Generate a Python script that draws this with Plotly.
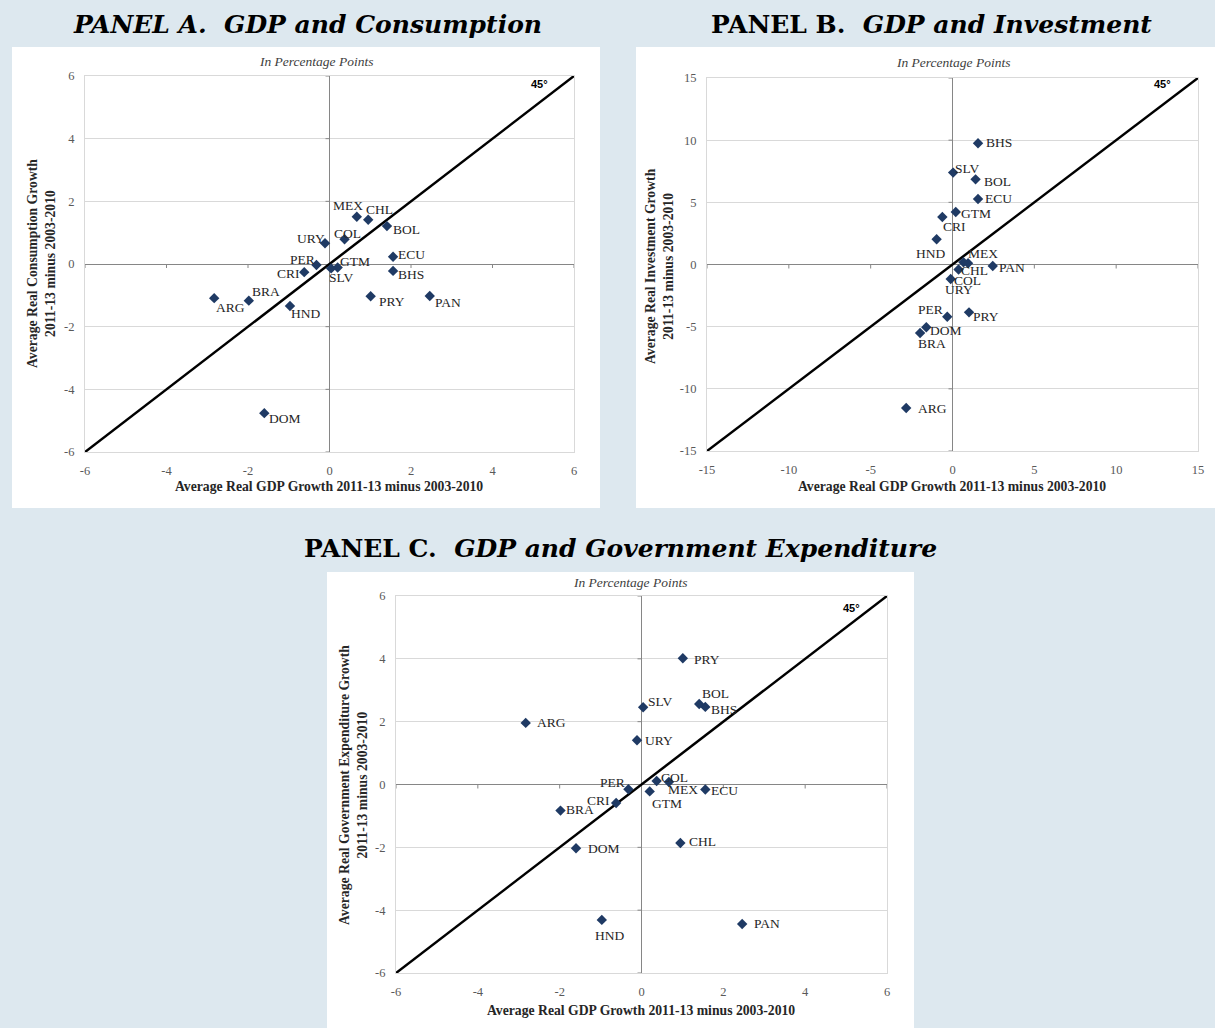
import plotly.graph_objects as go

# ---------------- data ----------------
countries = ["ARG", "BHS", "BOL", "BRA", "CHL", "COL", "CRI", "DOM", "ECU",
             "GTM", "HND", "MEX", "PAN", "PRY", "PER", "SLV", "URY"]
gdp_diff = [-2.83, 1.56, 1.41, -1.98, 0.95, 0.37, -0.62, -1.60, 1.56,
            0.20, -0.97, 0.67, 2.46, 1.01, -0.32, 0.04, -0.11]
consumption_diff = [-1.09, -0.22, 1.21, -1.17, 1.41, 0.79, -0.26, -4.76, 0.23,
                    -0.11, -1.34, 1.51, -1.02, -1.03, -0.03, -0.14, 0.66]
investment_diff = [-11.54, 9.75, 6.85, -5.51, 0.10, -0.40, 3.82, -5.05, 5.27,
                   4.22, 2.03, 0.18, -0.12, -3.85, -4.20, 7.39, -1.17]
government_diff = [1.96, 2.47, 2.56, -0.83, -1.86, 0.11, -0.59, -2.03, -0.16,
                   -0.22, -4.31, 0.08, -4.44, 4.02, -0.15, 2.46, 1.41]

ticks_ac = [-6, -4, -2, 0, 2, 4, 6]
ticks_b = [-15, -10, -5, 0, 5, 10, 15]

# label offsets (pixels, dx right, dy down) -- layout only
off_a = {"MEX": (-9, -11), "CHL": (11, -10), "BOL": (20, 3), "URY": (-14, -5),
         "COL": (3, -6), "ECU": (18, -2), "PER": (-14, -5), "GTM": (17, -6),
         "SLV": (10, 9), "CRI": (-16, 1), "BHS": (18, 4), "ARG": (16, 9),
         "BRA": (17, -9), "HND": (16, 8), "PRY": (21, 5), "PAN": (18, 7),
         "DOM": (21, 5)}
off_b = {"BHS": (21, -1), "SLV": (14, -4), "BOL": (22, 2), "ECU": (20, 0),
         "GTM": (20, 1), "CRI": (12, 10), "HND": (-6, 14), "MEX": (20, -9),
         "CHL": (6, 7), "COL": (9, 11), "URY": (8, 10), "PAN": (19, 2),
         "PER": (-17, -7), "PRY": (17, 4), "DOM": (20, 3), "BRA": (12, 10),
         "ARG": (26, 1)}
off_c = {"PRY": (24, 1), "BOL": (16, -11), "BHS": (19, 3), "SLV": (17, -6),
         "ARG": (26, 0), "URY": (22, 0), "COL": (18, -4), "MEX": (14, 8),
         "ECU": (19, 1), "PER": (-16, -7), "GTM": (17, 12), "CRI": (-18, -3),
         "BRA": (20, -1), "CHL": (22, -1), "DOM": (28, 0), "HND": (8, 16),
         "PAN": (25, 0)}

W, H = 1215, 1028
BG = "#dde8ef"
SERIF = "Liberation Serif, Times New Roman, serif"
TSERIF = "DejaVu Serif, serif"
MARK = "#1f3a64"


def px(x):
    return x / W


def py(y):
    return 1 - y / H


panels = [
    dict(name="A", xa="x", ya="y", xkey="xaxis", ykey="yaxis",
         dom_x=(85, 574), dom_y=(76, 452), ticks=ticks_ac, yvals=consumption_diff,
         offs=off_a, box=(12, 47, 600, 508),
         title="<b><i>PANEL A.\u00a0\u00a0GDP and Consumption</i></b>", title_xy=(307, 24),
         sub_xy=(316, 61), xt_xy=(329, 486),
         ytitle="Average Real Consumption Growth<br>2011-13 minus 2003-2010", yt_xy=(41, 264),
         deg_xy=(539, 84)),
    dict(name="B", xa="x2", ya="y2", xkey="xaxis2", ykey="yaxis2",
         dom_x=(707, 1198), dom_y=(78, 451), ticks=ticks_b, yvals=investment_diff,
         offs=off_b, box=(636, 47, 1215, 508),
         title="<b>PANEL B.\u00a0\u00a0<i>GDP and Investment</i></b>", title_xy=(931, 24),
         sub_xy=(953, 62), xt_xy=(952, 486),
         ytitle="Average Real Investment Growth<br>2011-13 minus 2003-2010", yt_xy=(660, 266),
         deg_xy=(1162, 84)),
    dict(name="C", xa="x3", ya="y3", xkey="xaxis3", ykey="yaxis3",
         dom_x=(396, 887), dom_y=(596, 973), ticks=ticks_ac, yvals=government_diff,
         offs=off_c, box=(327, 572, 914, 1028),
         title="<b>PANEL C.\u00a0\u00a0<i>GDP and Government Expenditure</i></b>", title_xy=(620, 548),
         sub_xy=(630, 582), xt_xy=(641, 1010),
         ytitle="Average Real Government Expenditure Growth<br>2011-13 minus 2003-2010", yt_xy=(353, 785),
         deg_xy=(851, 608)),
]

fig = go.Figure()
shapes = []
annotations = []
layout_axes = {}

for p in panels:
    lo, hi = p["ticks"][0], p["ticks"][-1]
    # white panel box
    x0, y0, x1, y1 = p["box"]
    shapes.append(dict(type="rect", xref="paper", yref="paper",
                       x0=px(x0), x1=px(x1), y0=py(y1), y1=py(y0),
                       fillcolor="white", line=dict(width=0), layer="below"))
    # 45 degree line (from axis range)
    fig.add_trace(go.Scatter(x=[lo, hi], y=[lo, hi], mode="lines",
                             line=dict(color="black", width=2.5),
                             xaxis=p["xa"], yaxis=p["ya"], showlegend=False,
                             hoverinfo="skip"))
    # points
    fig.add_trace(go.Scatter(x=gdp_diff, y=p["yvals"], mode="markers",
                             marker=dict(symbol="diamond", size=8, color=MARK),
                             text=countries, xaxis=p["xa"], yaxis=p["ya"],
                             showlegend=False))
    # labels
    for c, xv, yv in zip(countries, gdp_diff, p["yvals"]):
        dx, dy = p["offs"][c]
        annotations.append(dict(x=xv, y=yv, xref=p["xa"], yref=p["ya"], text=c,
                                showarrow=False, xshift=dx, yshift=-dy,
                                xanchor="center", yanchor="middle",
                                font=dict(family=SERIF, size=13.5, color="#262626")))
    # small tick marks on zero axes
    for t in p["ticks"]:
        if t != 0:
            shapes.append(dict(type="line", xref=p["xa"], yref=p["ya"],
                               x0=t, x1=t, ysizemode="pixel", yanchor=0, y0=0, y1=-4,
                               line=dict(color="#868686", width=1)))
            shapes.append(dict(type="line", xref=p["xa"], yref=p["ya"],
                               y0=t, y1=t, xsizemode="pixel", xanchor=0, x0=0, x1=-4,
                               line=dict(color="#868686", width=1)))
    ax_common = dict(range=[lo, hi], tickvals=p["ticks"],
                     ticktext=[str(t) for t in p["ticks"]], showgrid=False,
                     zeroline=True, zerolinecolor="#868686", zerolinewidth=1,
                     showline=True, mirror=True, linecolor="#d9d9d9", linewidth=1,
                     ticks="outside", ticklen=7, tickcolor="rgba(0,0,0,0)",
                     tickfont=dict(family=SERIF, size=12.5, color="#595959"),
                     automargin=False, fixedrange=True)
    layout_axes[p["xkey"]] = dict(ax_common, domain=[px(p["dom_x"][0]), px(p["dom_x"][1])],
                                  anchor=p["ya"])
    layout_axes[p["ykey"]] = dict(ax_common, domain=[py(p["dom_y"][1]), py(p["dom_y"][0])],
                                  anchor=p["xa"], showgrid=True, gridcolor="#d9d9d9",
                                  gridwidth=1)
    # texts
    annotations.append(dict(x=px(p["title_xy"][0]), y=py(p["title_xy"][1]), xref="paper",
                            yref="paper", text=p["title"], showarrow=False,
                            xanchor="center", yanchor="middle",
                            font=dict(family=TSERIF, size=25, color="black")))
    annotations.append(dict(x=px(p["sub_xy"][0]), y=py(p["sub_xy"][1]), xref="paper",
                            yref="paper", text="<i>In Percentage Points</i>", showarrow=False,
                            xanchor="center", yanchor="middle",
                            font=dict(family=SERIF, size=13.5, color="#404040")))
    annotations.append(dict(x=px(p["xt_xy"][0]), y=py(p["xt_xy"][1]), xref="paper",
                            yref="paper",
                            text="<b>Average Real GDP Growth 2011-13 minus 2003-2010</b>",
                            showarrow=False, xanchor="center", yanchor="middle",
                            font=dict(family=SERIF, size=13.7, color="#262626")))
    annotations.append(dict(x=px(p["yt_xy"][0]), y=py(p["yt_xy"][1]), xref="paper",
                            yref="paper", text="<b>" + p["ytitle"] + "</b>",
                            showarrow=False, xanchor="center", yanchor="middle",
                            textangle=-90,
                            font=dict(family=SERIF, size=13.7, color="#262626")))
    annotations.append(dict(x=px(p["deg_xy"][0]), y=py(p["deg_xy"][1]), xref="paper",
                            yref="paper", text="<b>45°</b>", showarrow=False,
                            xanchor="center", yanchor="middle",
                            font=dict(family="Liberation Sans, Arial, sans-serif", size=11,
                                      color="black")))

fig.update_layout(width=W, height=H, margin=dict(l=0, r=0, t=0, b=0, pad=0),
                  autosize=False,
                  paper_bgcolor=BG, plot_bgcolor="white",
                  shapes=shapes, annotations=annotations, showlegend=False,
                  **layout_axes)

fig.write_html(
    "out.html",
    config={"displayModeBar": False},
    post_script=("document.body.style.margin='0';"
                 "document.body.style.padding='0';"
                 "document.body.style.overflow='hidden';"
                 "document.body.style.background='" + BG + "';"),
)
